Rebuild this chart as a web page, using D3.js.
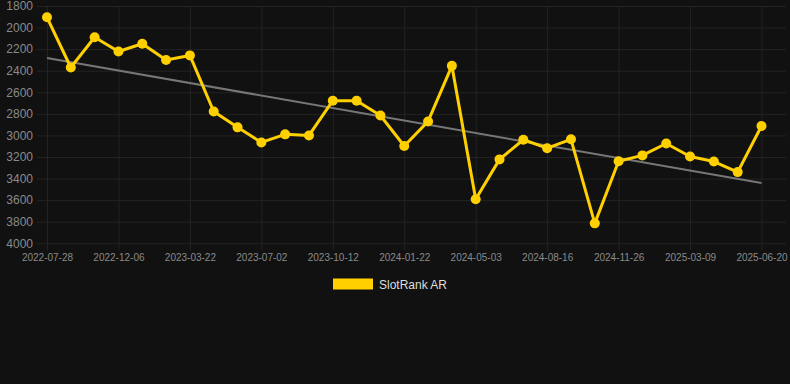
<!DOCTYPE html>
<html>
<head>
<meta charset="utf-8">
<script src="https://cdn.jsdelivr.net/npm/d3@7"></script>
<style>
  html, body { margin: 0; padding: 0; background: #111111; }
  svg { display: block; }
</style>
</head>
<body>
<svg id="chart" width="790" height="384"></svg>
<script>
// ---- data ----
const dates = [
  "2022-07-28","2022-09-10","2022-10-23","2022-12-06","2023-01-10","2023-02-14",
  "2023-03-22","2023-04-25","2023-05-29","2023-07-02","2023-08-05","2023-09-08",
  "2023-10-12","2023-11-14","2023-12-18","2024-01-22","2024-02-24","2024-03-29",
  "2024-05-03","2024-06-06","2024-07-11","2024-08-16","2024-09-21","2024-10-24",
  "2024-11-26","2024-12-31","2025-02-03","2025-03-09","2025-04-11","2025-05-16",
  "2025-06-20"
];
const rankValues = [
  1905, 2370, 2090, 2222, 2150, 2300,
  2258, 2778, 2925, 3065, 2990, 3000,
  2678, 2678, 2815, 3098, 2870, 2355,
  3592, 3222, 3040, 3118, 3036, 3815,
  3240, 3185, 3075, 3195, 3242, 3340,
  2912
];
const trendValues = [2283, 3441]; // trend line at first and last date
const yTicks = [1800, 2000, 2200, 2400, 2600, 2800, 3000, 3200, 3400, 3600, 3800, 4000];
const seriesName = "SlotRank AR";

// ---- layout ----
const svg = d3.select("#chart");
const mLeft = 47, mRight = 761.5, mTop = 6, mBottom = 243.3;
const gridRight = 786;
const lineColor = "#ffd000";
const gridColor = "#232323";

const x = d3.scalePoint().domain(dates).range([mLeft, mRight]);
const y = d3.scaleLinear().domain([1800, 4000]).range([mTop, mBottom]);

// horizontal grid + y axis labels
const yAxis = d3.axisLeft(y).tickValues(yTicks).tickSize(-(gridRight - mLeft) - 10).tickPadding(4)
  .tickFormat(d3.format("d"));
const gy = svg.append("g").attr("transform", `translate(${mLeft - 10},0)`).call(yAxis);
gy.select(".domain").remove();
gy.selectAll(".tick line").attr("stroke", gridColor).attr("stroke-width", 1);
gy.selectAll(".tick text").attr("fill", "#8a8a8a").attr("font-family", "Arial, 'Liberation Sans', sans-serif")
  .attr("font-size", 12).attr("x", -4);

// vertical grid + x labels (every 3rd)
const xLabelDates = dates.filter((d, i) => i % 3 === 0);
const xAxis = d3.axisBottom(x).tickValues(xLabelDates).tickSize(-(mBottom - mTop) - 7).tickPadding(6);
const gx = svg.append("g").attr("transform", `translate(0,${mBottom + 7})`).call(xAxis);
gx.select(".domain").remove();
gx.selectAll(".tick line").attr("stroke", gridColor).attr("stroke-width", 1);
gx.selectAll(".tick text").attr("fill", "#8a8a8a").attr("font-family", "Arial, 'Liberation Sans', sans-serif")
  .attr("font-size", 10).attr("y", 4).attr("dy", "0.71em");

// trend line
svg.append("line")
  .attr("x1", x(dates[0])).attr("y1", y(trendValues[0]))
  .attr("x2", x(dates[dates.length - 1])).attr("y2", y(trendValues[1]))
  .attr("stroke", "#777777").attr("stroke-width", 2);

// series line
const line = d3.line().x((d, i) => x(dates[i])).y(d => y(d));
svg.append("path").datum(rankValues)
  .attr("d", line).attr("fill", "none")
  .attr("stroke", lineColor).attr("stroke-width", 3).attr("stroke-linejoin", "round");

svg.append("g").selectAll("circle").data(rankValues).join("circle")
  .attr("cx", (d, i) => x(dates[i])).attr("cy", d => y(d)).attr("r", 5)
  .attr("fill", lineColor);

// legend
const lg = svg.append("g").attr("transform", "translate(333,278.5)");
lg.append("rect").attr("width", 40).attr("height", 11).attr("fill", lineColor);
lg.append("text").attr("x", 46).attr("y", 10).text(seriesName)
  .attr("fill", "#dddddd").attr("font-family", "Arial, 'Liberation Sans', sans-serif").attr("font-size", 12);
</script>
</body>
</html>
